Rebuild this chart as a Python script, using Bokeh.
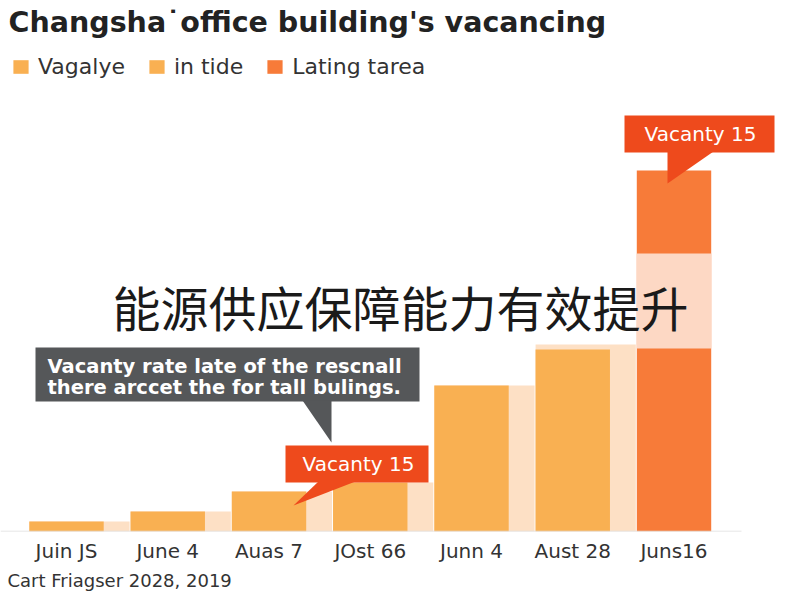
from bokeh.plotting import figure
from bokeh.models import (ColumnDataSource, Range1d, FixedTicker, Label, Legend,
                          LegendItem, Title)
from bokeh.embed import file_html
from bokeh.resources import INLINE

# ---- data ----
categories = ["Juin JS", "June 4", "Auas 7", "JOst 66", "Junn 4", "Aust 28", "Juns16"]
vacancy = [0.42, 0.83, 1.66, 2.04, 6.07, 7.56, 15.0]
in_tide = [0.42, 0.83, 1.66, 2.04, 6.07, 7.77, 0.0]
band_low = [7.6]
band_high = [11.55]
legend_labels = ["Vagalye", "in tide", "Lating tarea"]
title_text = "Changsha\u02d9office building's vacancing"
note_lines = ["Vacanty rate late of the rescnall", "there arccet the for tall bulings."]
callout_text = "Vacanty 15"
overlay_text = "能源供应保障能力有效提升"
footer_text = "Cart Friagser 2028, 2019"

# ---- styles ----
ORANGE = "#F9B052"
LIGHT = "#FDE0C5"
DARK = "#F77B39"
BAND = "#FDD8C4"
RED = "#EE4A1C"
GRAY = "#555759"
FONT = "DejaVu Sans"

# pixel helpers (picture px -> data units)
PX0, PXU, BASE, PYU = 66.0, 101.25, 531.0, 24.07
def X(px):
    return (px - PX0) / PXU
def Y(py):
    return (BASE - py) / PYU

idx = list(range(len(categories)))
bar_colors = [ORANGE] * 6 + [DARK]

p = figure(width=792, height=592, output_backend="svg", toolbar_location=None,
           x_range=Range1d(X(0), X(792)), y_range=Range1d(0, Y(0)),
           min_border_left=0, min_border_right=0, min_border_top=0,
           min_border_bottom=61)
p.outline_line_color = None
p.grid.visible = False
p.yaxis.visible = False

# light background bars
src_light = ColumnDataSource(dict(x=[i + 0.128 for i in idx], top=in_tide))
p.vbar(x="x", top="top", width=0.99, bottom=0, source=src_light,
       fill_color=LIGHT, line_color=None)
# main bars
src = ColumnDataSource(dict(x=idx, top=vacancy, color=bar_colors))
r_bars = p.vbar(x="x", top="top", width=0.735, bottom=0, source=src,
                fill_color="color", line_color=None)
# light band on the last bar
p.quad(left=[idx[-1] - 0.3675], right=[idx[-1] + 0.3675], bottom=band_low, top=band_high,
       fill_color=BAND, line_color=None)

# baseline
p.segment(x0=[X(0)], y0=[0], x1=[X(741)], y1=[0], line_color="#DDDDDD", line_width=1.5)

# x axis
ax = p.xaxis[0]
ax.ticker = FixedTicker(ticks=idx)
ax.major_label_overrides = {i: c for i, c in zip(idx, categories)}
ax.major_label_text_font = FONT
ax.major_label_text_font_size = "20px"
ax.major_label_text_color = "#333333"
ax.major_label_standoff = 7
ax.major_tick_out = 0
ax.major_tick_in = 0
ax.major_tick_line_color = None
ax.minor_tick_line_color = None
ax.axis_line_color = None

# footer
p.add_layout(Title(text=footer_text, align="left", text_font=FONT,
                   text_font_size="18px", text_font_style="normal",
                   text_color="#333333", standoff=4, offset=7), "below")

# title
p.add_layout(Label(x=X(8), y=Y(22), text=title_text, text_font=FONT,
                   text_font_size="28.5px", text_font_style="bold",
                   text_color="#222222", text_baseline="alphabetic"))

# legend
legend = Legend(items=[LegendItem(label=legend_labels[0], renderers=[r_bars], index=0),
                       LegendItem(label=legend_labels[1], renderers=[r_bars], index=1),
                       LegendItem(label=legend_labels[2], renderers=[r_bars], index=6)],
                orientation="horizontal", location=(11, 452), padding=0, margin=0,
                spacing=22, label_standoff=8, glyph_width=19, glyph_height=17,
                label_text_font=FONT, label_text_font_size="22px",
                label_text_color="#333333", background_fill_alpha=0,
                border_line_color=None)
p.add_layout(legend, "center")

# gray note callout
p.quad(left=[X(35)], right=[X(419)], bottom=[Y(401)], top=[Y(347)],
       fill_color=GRAY, line_color=None)
p.patch(x=[X(302), X(331), X(331)], y=[Y(400), Y(442), Y(400)],
        fill_color=GRAY, line_color=None)
for k, line in enumerate(note_lines):
    p.add_layout(Label(x=X(47), y=Y(366 + 21 * k), text=line, text_font=FONT,
                       text_font_size="19.5px", text_font_style="bold",
                       text_color="white", text_baseline="alphabetic"))

# middle red callout
p.quad(left=[X(285)], right=[X(428)], bottom=[Y(482)], top=[Y(445)],
       fill_color=RED, line_color=None)
p.patch(x=[X(318), X(293), X(355)], y=[Y(481), Y(505), Y(481)],
        fill_color=RED, line_color=None)
p.add_layout(Label(x=X(358), y=Y(463), text=callout_text, text_font=FONT,
                   text_font_size="20px", text_color="white",
                   text_align="center", text_baseline="alphabetic"))

# top red callout
p.quad(left=[X(624)], right=[X(774)], bottom=[Y(152)], top=[Y(115)],
       fill_color=RED, line_color=None)
p.patch(x=[X(667), X(667), X(713)], y=[Y(151), Y(183), Y(151)],
        fill_color=RED, line_color=None)
p.add_layout(Label(x=X(700), y=Y(133), text=callout_text, text_font=FONT,
                   text_font_size="20px", text_color="white",
                   text_align="center", text_baseline="alphabetic"))

# overlay Chinese text
p.add_layout(Label(x=X(400), y=Y(305), text=overlay_text, text_font="Noto Sans CJK SC",
                   text_font_size="48px", text_color="#1A1A1A",
                   text_align="center", text_baseline="middle"))

open("out.html", "w").write(file_html(p, INLINE))
